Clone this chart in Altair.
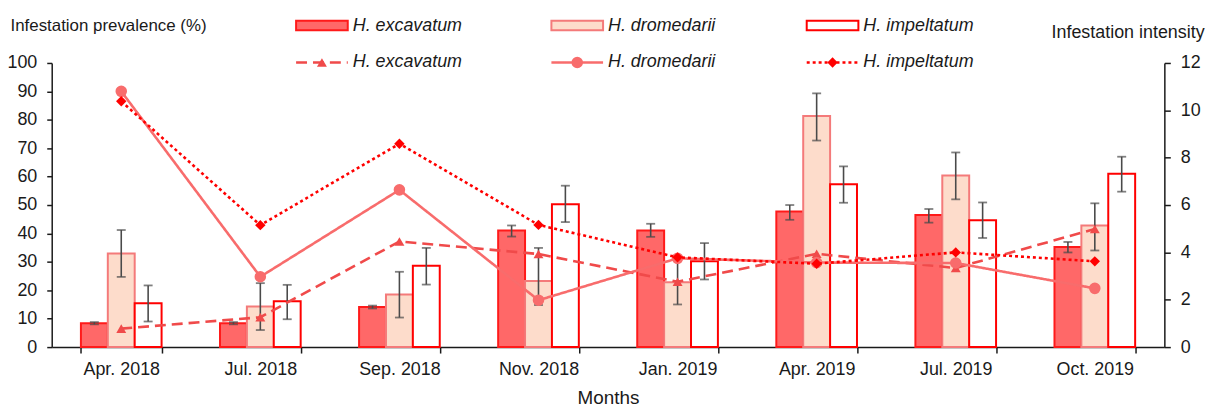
import altair as alt
import pandas as pd

months = ["Apr. 2018", "Jul. 2018", "Sep. 2018", "Nov. 2018",
          "Jan. 2019", "Apr. 2019", "Jul. 2019", "Oct. 2019"]
species = ["H. excavatum", "H. dromedarii", "H. impeltatum"]

# Infestation prevalence (%) with error bar bounds
exc_prev = [8.4, 8.4, 14.1, 41.0, 41.0, 47.7, 46.5, 35.2]
exc_lo = [8.0, 8.0, 13.6, 38.9, 38.8, 44.8, 43.8, 33.3]
exc_hi = [8.8, 8.8, 14.6, 42.8, 43.4, 50.0, 48.6, 37.0]

drom_prev = [32.9, 14.3, 18.5, 23.3, 22.8, 81.3, 60.4, 42.8]
drom_lo = [24.7, 6.0, 10.4, 14.8, 15.0, 72.7, 52.0, 34.0]
drom_hi = [41.2, 22.5, 26.5, 34.9, 31.7, 89.3, 68.5, 50.6]

imp_prev = [15.4, 16.1, 28.6, 50.3, 30.2, 57.3, 44.6, 61.0]
imp_lo = [9.0, 9.8, 22.0, 44.0, 23.8, 50.8, 38.4, 54.7]
imp_hi = [21.7, 21.9, 34.9, 56.8, 36.6, 63.6, 50.9, 67.0]

# Infestation intensity
exc_int = [0.78, 1.26, 4.46, 3.93, 2.76, 3.94, 3.34, 4.99]
drom_int = [10.8, 2.97, 6.64, 1.98, 3.75, 3.57, 3.55, 2.48]
imp_int = [10.38, 5.15, 8.59, 5.16, 3.79, 3.52, 4.0, 3.62]

FONT = "Liberation Sans"
bar_fill = ["#FF6868", "#FDDCCB", "#FFFFFF"]
bar_stroke = ["#FF1A1A", "#F47A7A", "#FF0000"]
line_color = ["#F04A4A", "#F86C6C", "#FF0000"]
line_dash = [[11, 6], [1, 0], [3, 3]]
point_shape = ["triangle-up", "circle", "diamond"]
point_size = [100, 135, 110]

prev_rows = []
for sp, vals, los, his in zip(species, [exc_prev, drom_prev, imp_prev],
                              [exc_lo, drom_lo, imp_lo], [exc_hi, drom_hi, imp_hi]):
    for m, v, lo, hi in zip(months, vals, los, his):
        prev_rows.append({"month": m, "species": sp, "value": v, "lo": lo, "hi": hi})
prev_df = pd.DataFrame(prev_rows)

x_axis = alt.Axis(title="Months", labelAngle=0, tickBand="extent",
                  tickSize=6, labelPadding=8, titleFontSize=19,
                  titleY=57, titleBaseline="alphabetic")
x_scale = alt.Scale(paddingInner=0.42, paddingOuter=0.21)


def xenc():
    return alt.X("month:N", sort=months, scale=x_scale, axis=x_axis)


xoff = alt.XOffset("species:N", sort=species,
                   scale=alt.Scale(paddingInner=0, paddingOuter=0))

left_axis = alt.Axis(orient="left", values=list(range(0, 101, 10)), tickSize=5,
                     labelPadding=10, title="Infestation prevalence (%)",
                     titleFontSize=17,
                     titleAngle=0, titleAlign="left", titleBaseline="alphabetic",
                     titleX=-42, titleY=-33)
yscale_left = alt.Scale(domain=[0, 100], nice=False)


def yleft(field):
    return alt.Y(field, scale=yscale_left, axis=left_axis)


bars = alt.Chart(prev_df).mark_bar(strokeWidth=2).encode(
    x=xenc(),
    xOffset=xoff,
    y=yleft("value:Q"),
    fill=alt.Fill("species:N", sort=species,
                  scale=alt.Scale(domain=species, range=bar_fill), legend=None),
    stroke=alt.Stroke("species:N", sort=species,
                      scale=alt.Scale(domain=species, range=bar_stroke), legend=None),
)

err = alt.Chart(prev_df).mark_rule(color="#4a4a4a", strokeWidth=1.6).encode(
    x=xenc(), xOffset=xoff, y=yleft("lo:Q"), y2="hi:Q")
cap_lo = alt.Chart(prev_df).mark_tick(color="#4a4a4a", thickness=1.8, size=9).encode(
    x=xenc(), xOffset=xoff, y=yleft("lo:Q"))
cap_hi = alt.Chart(prev_df).mark_tick(color="#4a4a4a", thickness=1.8, size=9).encode(
    x=xenc(), xOffset=xoff, y=yleft("hi:Q"))

left = alt.layer(bars, err, cap_lo, cap_hi)

right_axis = alt.Axis(orient="right", values=list(range(0, 13, 2)), tickSize=6,
                      labelPadding=10, title="Infestation intensity",
                      titleAngle=0, titleAlign="right", titleBaseline="alphabetic",
                      titleX=40, titleY=-26)
yscale_right = alt.Scale(domain=[0, 12], nice=False)

line_layers = []
for i, (sp, vals) in enumerate(zip(species, [exc_int, drom_int, imp_int])):
    df = pd.DataFrame({"month": months, "intensity": vals})
    base = alt.Chart(df).encode(
        x=xenc(),
        y=alt.Y("intensity:Q", scale=yscale_right, axis=right_axis),
    )
    line_layers.append(base.mark_line(color=line_color[i], strokeWidth=2.6,
                                      strokeDash=line_dash[i]))
    line_layers.append(base.mark_point(shape=point_shape[i], filled=True, opacity=1,
                                       size=point_size[i], color=line_color[i]))
right = alt.layer(*line_layers)

# Legend (drawn manually, two rows x three columns above the plot)
one = pd.DataFrame({"k": [0]})
col_x = [246, 503, 760]
sym_w = 52
legend_layers = []
for i, sp in enumerate(species):
    x0 = col_x[i]
    legend_layers.append(alt.Chart(one).mark_rect(
        fill=bar_fill[i], stroke=bar_stroke[i], strokeWidth=2).encode(
        x=alt.value(x0), x2=alt.value(x0 + sym_w), y=alt.value(-42.5), y2=alt.value(-33)))
    legend_layers.append(alt.Chart(one).mark_rule(
        color=line_color[i], strokeWidth=2.6, strokeDash=line_dash[i]).encode(
        x=alt.value(x0), x2=alt.value(x0 + sym_w), y=alt.value(-0.5)))
    legend_layers.append(alt.Chart(one).mark_point(
        shape=point_shape[i], filled=True, opacity=1, size=point_size[i],
        color=line_color[i]).encode(x=alt.value(x0 + sym_w / 2), y=alt.value(-0.5)))
    for yy in [-32, 4]:
        legend_layers.append(alt.Chart(one).mark_text(
            align="left", baseline="alphabetic", font=FONT, fontSize=18,
            fontStyle="italic", color="#1a1a1a").encode(
            x=alt.value(x0 + sym_w + 5), y=alt.value(yy), text=alt.value(sp)))

chart = alt.layer(left, right, *legend_layers).resolve_scale(
    y="independent"
).properties(
    width=1120, height=286,
    autosize=alt.AutoSizeParams(type="none"),
    padding={"left": 44, "top": 54, "right": 54, "bottom": 61},
).configure_view(stroke=None).configure_axis(
    grid=False, domainColor="#1a1a1a", domainWidth=1.5, tickColor="#1a1a1a",
    tickWidth=1.5, labelFont=FONT, labelFontSize=18, labelColor="#1a1a1a",
    titleFont=FONT, titleFontSize=18, titleFontWeight="normal", titleColor="#1a1a1a",
)

chart.save("out.html", embed_options={"renderer": "svg", "actions": False})
